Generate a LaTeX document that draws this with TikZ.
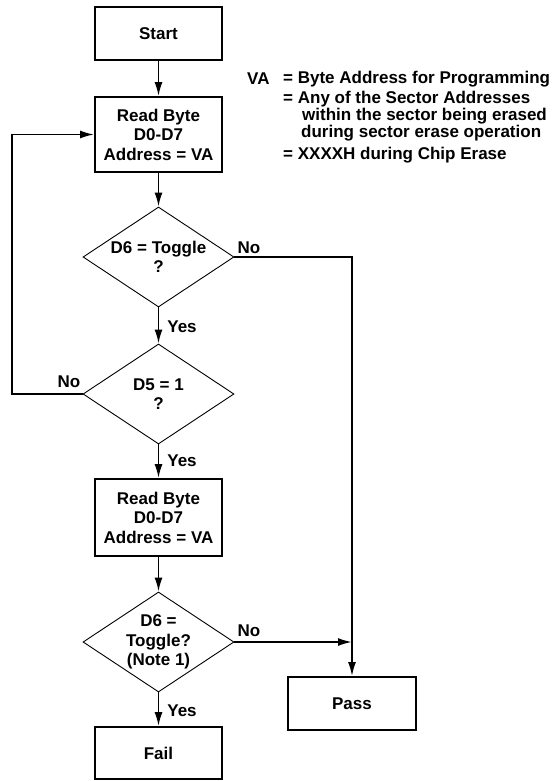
\documentclass[tikz,border=0pt]{standalone}
\usepackage{fontspec}
\setmainfont{Liberation Sans}
\usetikzlibrary{shapes,arrows.meta}

\begin{document}
\begin{tikzpicture}[x=1pt,y=-1pt,font=\fontsize{17}{19.5}\selectfont\bfseries]
	\tikzstyle{process} = [rectangle, draw, line width=1.8pt, text centered, align=center, minimum width=127pt]
	\tikzstyle{decision} = [diamond, draw, line width=0.9pt, align=center, aspect=1.5, inner sep=0pt, minimum width=151pt, minimum height=100pt]
	\tikzstyle{connector} = [draw, line width=1.8pt, -{Latex[length=14pt,width=8pt]}]
	\tikzstyle{branch} = [draw=none, inner sep=0pt]
\useasboundingbox (0,0) rectangle (555,781);
\node [process, minimum height=53pt] at (158.5,33.5) (start) {Start};
\node [process, minimum height=75pt] at (158.5,134.5) (read1) {Read Byte\\D0-D7\\Address = VA};
\node [decision] at (158.5,257) (dec1) {D6 = Toggle\\?};
\node [decision] at (158.5,394) (dec2) {D5 = 1\\?};
\node [process, minimum height=77pt] at (158.5,517.5) (read2) {Read Byte\\D0-D7\\Address = VA};
\node [decision] at (158.5,642) (dec3) {D6 =\\Toggle?\\(Note 1)};
\node [process, minimum height=52pt] at (158.5,753) (fail) {Fail};
\node [process, minimum width=128pt, minimum height=53pt] at (352,703.5) (pass) {Pass};
\node [branch] at (182,327) (yes1) {Yes};
\node [branch] at (182,461) (yes2) {Yes};
\node [branch] at (182,711) (yes3) {Yes};
\node [branch] at (249,248) (no1) {No};
\node [branch] at (69,382) (no2) {No};
\node [branch] at (249,631) (no3) {No};
\node [branch, anchor=west] at (247,79) (va) {VA};
\node [branch, anchor=west] at (283,79) (vabyte) {= Byte Address for Programming};
\node [branch, anchor=west] at (283,99) (vasector) {= Any of the Sector Addresses};
\node [branch, anchor=west] at (302,116) (vawithin) {within the sector being erased};
\node [branch, anchor=west] at (301,133) (vaduring) {during sector erase operation};
\node [branch, anchor=west] at (283,155) (vachip) {= XXXXH during Chip Erase};
\coordinate (loop) at (12,394);
\path [connector] (start) -- (read1);
\path [connector] (read1) -- (dec1);
\path [connector] (dec1) -- (dec2);
\path [connector] (dec2) -- (read2);
\path [connector] (read2) -- (dec3);
\path [connector] (dec3) -- (fail);
\path [connector] (dec1) -| (pass);
\path [connector] (dec3) -- (dec3 -| pass);
\path [connector] (dec2) -- (loop) |- (read1);
\end{tikzpicture}
\end{document}
